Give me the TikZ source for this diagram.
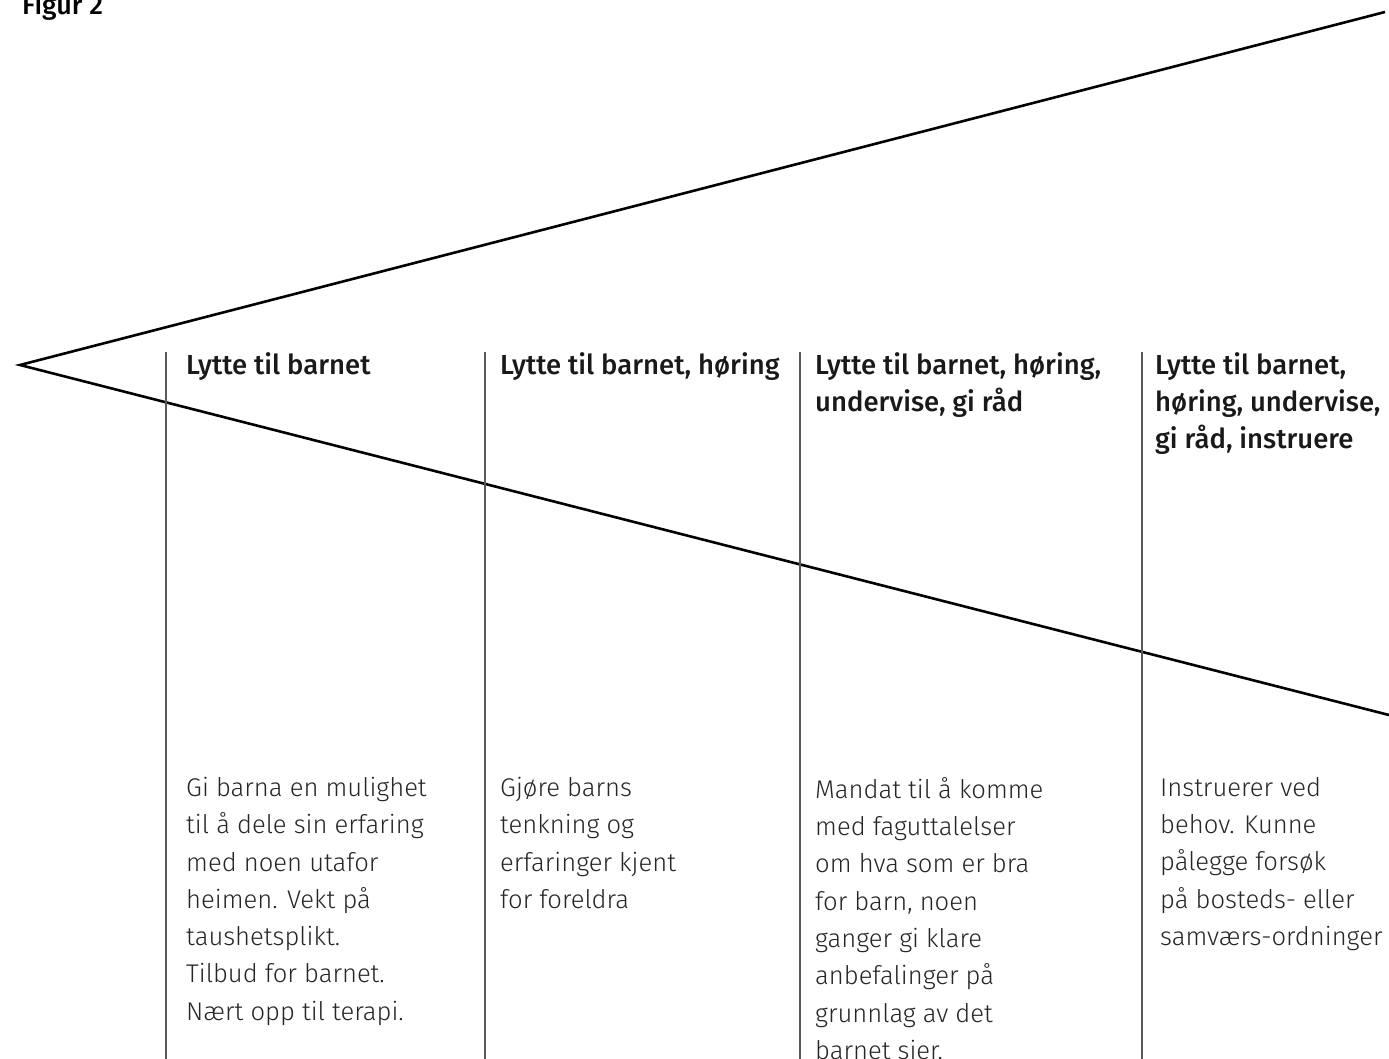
\documentclass[tikz,border=0pt]{standalone}
\usepackage{fontspec}
\setmainfont{Fira Sans}
\newfontfamily\lightfont{Fira Sans Light}
\newfontfamily\headfont{Fira Sans Medium}
\begin{document}
\begin{tikzpicture}[x=1pt,y=-1pt,
  cone/.style={line width=2.6pt,black},
  divider/.style={line width=1.3pt,black!65},
  head/.style={anchor=north west,inner sep=0pt,align=left,font=\headfont\fontsize{27.5}{37.3}\selectfont,text=black!90},
  body/.style={anchor=north west,inner sep=0pt,align=left,font=\lightfont\fontsize{25.6}{37.3}\selectfont,text=black!85}]
\useasboundingbox (0,0) rectangle (1389,1059);
\clip (0,0) rectangle (1389,1059);
\node[anchor=base west,inner sep=0pt,font=\headfont\fontsize{27}{30}\selectfont] (fig) at (22,15) {Figur 2};
\coordinate (apex) at (20,365);
\coordinate (top) at (1385,12);
\coordinate (bot) at (1389,715);
\draw[cone] (top) -- (apex) -- (bot);
\foreach \n/\x in {d1/166,d2/485,d3/800,d4/1142}{
  \coordinate (\n a) at (\x,352);
  \coordinate (\n b) at (\x,1059);
  \draw[divider] (\n a) -- (\n b);
}
\node[head] (h1) at (186,352) {Lytte til barnet};
\node[head] (h2) at (500,352) {Lytte til barnet, høring};
\node[head] (h3) at (815,352) {Lytte til barnet, høring,\\undervise, gi råd};
\node[head] (h4) at (1155,352) {Lytte til barnet,\\høring, undervise,\\gi råd, instruere};
\node[body] (b1) at (186,777) {Gi barna en mulighet\\til å dele sin erfaring\\med noen utafor\\heimen. Vekt på\\taushetsplikt.\\Tilbud for barnet.\\Nært opp til terapi.};
\node[body] (b2) at (500,777) {Gjøre barns\\tenkning og\\erfaringer kjent\\for foreldra};
\node[body] (b3) at (815,777) {Mandat til å komme\\med faguttalelser\\om hva som er bra\\for barn, noen\\ganger gi klare\\anbefalinger på\\grunnlag av det\\barnet sier.};
\node[body] (b4) at (1160,777) {Instruerer ved\\behov. Kunne\\pålegge forsøk\\på bosteds- eller\\samværs-ordninger};
\end{tikzpicture}
\end{document}
